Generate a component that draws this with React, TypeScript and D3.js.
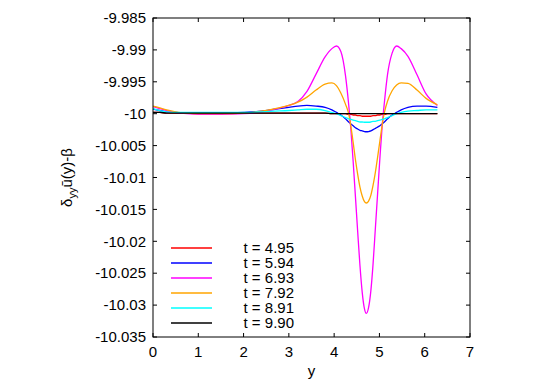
import React from 'react';
import * as d3 from 'd3';

// sample positions along y (0 .. 2π)
const ys = [0, 0.15, 0.3, 0.5, 0.75, 1.0, 1.5, 2.0, 2.4, 2.7,
    3.0, 3.2, 3.4, 3.6, 3.8, 3.95, 4.05, 4.15, 4.25, 4.32,
    4.37, 4.42, 4.47, 4.52, 4.57, 4.62, 4.67, 4.71, 4.76, 4.81,
    4.86, 4.91, 4.96, 5.01, 5.06, 5.11, 5.18, 5.28, 5.38, 5.48,
    5.63, 5.83, 6.03, 6.28];

const t495 = [-9.9998, -9.9998, -9.9999, -9.9999, -9.9999, -9.9999, -9.9999, -9.9999, -9.9999, -9.9999,
    -9.9999, -9.9999, -9.9999, -9.9999, -9.9999, -10.0000, -10.0000, -10.0000, -10.0000, -10.0001,
    -10.0001, -10.0002, -10.0002, -10.0003, -10.0003, -10.0004, -10.0004, -10.0004, -10.0004, -10.0004,
    -10.0003, -10.0003, -10.0002, -10.0002, -10.0001, -10.0001, -10.0000, -10.0000, -10.0000, -10.0000,
    -10.0000, -10.0000, -10.0000, -10.0000];

const t594 = [-9.9993, -9.9995, -9.9997, -9.9998, -9.9999, -9.9999, -9.9999, -9.9998, -9.9996, -9.9993,
    -9.9990, -9.9988, -9.9987, -9.9988, -9.9990, -9.9994, -9.9998, -10.0002, -10.0008, -10.0013,
    -10.0016, -10.0019, -10.0022, -10.0024, -10.0026, -10.0027, -10.0028, -10.00283, -10.0028, -10.0027,
    -10.0025, -10.0023, -10.0021, -10.0019, -10.0016, -10.0013, -10.0008, -10.0002, -9.9998, -9.9994,
    -9.9990, -9.9988, -9.9988, -9.9990];

const t693 = [-9.9989, -9.9992, -9.9995, -9.9998, -10.0000, -10.0001, -10.0001, -10.0000, -9.9997, -9.9993,
    -9.9987, -9.9981, -9.9965, -9.9938, -9.9911, -9.9898, -9.98939, -9.9903, -9.9940, -9.9985,
    -10.0025, -10.0075, -10.0130, -10.0185, -10.0238, -10.0280, -10.0306, -10.0313, -10.0304, -10.0278,
    -10.0235, -10.0180, -10.0125, -10.0070, -10.0020, -9.9982, -9.9938, -9.9905, -9.98939, -9.9898,
    -9.9910, -9.9939, -9.9969, -9.9987];

const t792 = [-9.9988, -9.9991, -9.9994, -9.9997, -9.9999, -10.0000, -10.0000, -9.9999, -9.9996, -9.9992,
    -9.9987, -9.9982, -9.9974, -9.9963, -9.99535, -9.99518, -9.9956, -9.9968, -9.9985, -10.0000,
    -10.0020, -10.0045, -10.0072, -10.0095, -10.0115, -10.0129, -10.0138, -10.0140, -10.0137, -10.0128,
    -10.0112, -10.0092, -10.0068, -10.0043, -10.0018, -9.9998, -9.9980, -9.9964, -9.9955, -9.99518,
    -9.99525, -9.9963, -9.9976, -9.9986];

const t891 = [-9.9992, -9.9995, -9.9997, -9.9998, -9.9998, -9.9998, -9.9998, -9.9998, -9.9997, -9.9996,
    -9.9995, -9.9994, -9.9993, -9.9993, -9.9995, -9.9998, -10.0000, -10.0003, -10.0006, -10.0008,
    -10.0009, -10.0010, -10.0011, -10.0012, -10.0013, -10.0013, -10.00134, -10.00134, -10.00134, -10.0013,
    -10.0012, -10.0012, -10.0011, -10.0010, -10.0009, -10.0008, -10.0006, -10.0003, -10.0000, -9.9998,
    -9.9996, -9.9995, -9.9994, -9.9994];

const t990 = [-9.9998, -9.9998, -9.9999, -9.9999, -9.9999, -9.9999, -9.9999, -9.9999, -9.9999, -9.9999,
    -9.9999, -9.9999, -9.9999, -9.9999, -9.9999, -10.0000, -10.0000, -10.0000, -10.0000, -10.0000,
    -10.0000, -10.0000, -10.0000, -10.0000, -10.0000, -10.0000, -10.0000, -10.0000, -10.0000, -10.0000,
    -10.0000, -10.0000, -10.0000, -10.0000, -10.0000, -10.0000, -10.0000, -10.0000, -10.0000, -10.0000,
    -10.0000, -10.0000, -10.0000, -10.0000];

const seriesNames = ['t = 4.95', 't = 5.94', 't = 6.93', 't = 7.92', 't = 8.91', 't = 9.90'];
const seriesValues = [t495, t594, t693, t792, t891, t990];
const seriesColors = ['#ff0000', '#0000ff', '#ff00ff', '#ffa500', '#00ffff', '#000000'];

const xTicks = [0, 1, 2, 3, 4, 5, 6, 7];
const yTicks = [-9.985, -9.99, -9.995, -10, -10.005, -10.01, -10.015, -10.02, -10.025, -10.03, -10.035];

const App = () => {
    const W = 545;
    const H = 382;
    const margin = { top: 18, right: 75, bottom: 45, left: 153 };
    const x = d3.scaleLinear().domain([0, 7]).range([margin.left, W - margin.right]);
    const y = d3.scaleLinear().domain([-10.035, -9.985]).range([H - margin.bottom, margin.top]);
    const tick = 4;
    const font = '"Liberation Sans", Arial, sans-serif';

    const line = d3.line<number>()
        .x((d, i) => x(ys[i]))
        .y(d => y(d))
        .curve(d3.curveMonotoneX);

    const x0 = x(0), x1 = x(7), y0 = y(-10.035), y1 = y(-9.985);

    return (
        <svg width={W} height={H} style={{ position: 'absolute', left: 0, top: 0, background: '#fff' }}
            fontFamily={font} fontSize={15}>
            {/* ticks, mirrored on top and right */}
            {xTicks.map(t =>
                <g key={'x' + t} stroke="#000" strokeWidth={1}>
                    <line x1={x(t)} x2={x(t)} y1={y0} y2={y0 - tick} />
                    <line x1={x(t)} x2={x(t)} y1={y1} y2={y1 + tick} />
                </g>
            )}
            {yTicks.map(t =>
                <g key={'y' + t} stroke="#000" strokeWidth={1}>
                    <line x1={x0} x2={x0 + tick} y1={y(t)} y2={y(t)} />
                    <line x1={x1} x2={x1 - tick} y1={y(t)} y2={y(t)} />
                </g>
            )}
            {xTicks.map(t =>
                <text key={'xl' + t} x={x(t)} y={y0 + 20} textAnchor="middle">{t}</text>
            )}
            {yTicks.map(t =>
                <text key={'yl' + t} x={x0 - 7} y={y(t)} dy="0.35em" textAnchor="end">{String(t)}</text>
            )}

            {seriesValues.map((vals, i) =>
                <path key={seriesNames[i]} d={line(vals) || ''} fill="none"
                    stroke={seriesColors[i]} strokeWidth={1.3} />
            )}

            {/* legend */}
            {seriesNames.map((name, i) =>
                <g key={'lg' + name}>
                    <line x1={171} x2={212} y1={248 + i * 15} y2={248 + i * 15}
                        stroke={seriesColors[i]} strokeWidth={1.3} />
                    <text x={294} y={248 + i * 15} dy="0.35em" textAnchor="end">{name}</text>
                </g>
            )}

            <rect x={x0} y={y1} width={x1 - x0} height={y0 - y1} fill="none" stroke="#000" strokeWidth={1} />

            <text x={(x0 + x1) / 2} y={376} textAnchor="middle">y</text>
            <text transform={`translate(72,${(y0 + y1) / 2}) rotate(-90)`} textAnchor="middle">
                δ<tspan fontSize={11} dy={4}>yy</tspan><tspan dy={-4}>ū(y)-β</tspan>
            </text>
        </svg>
    );
};

export default App;
